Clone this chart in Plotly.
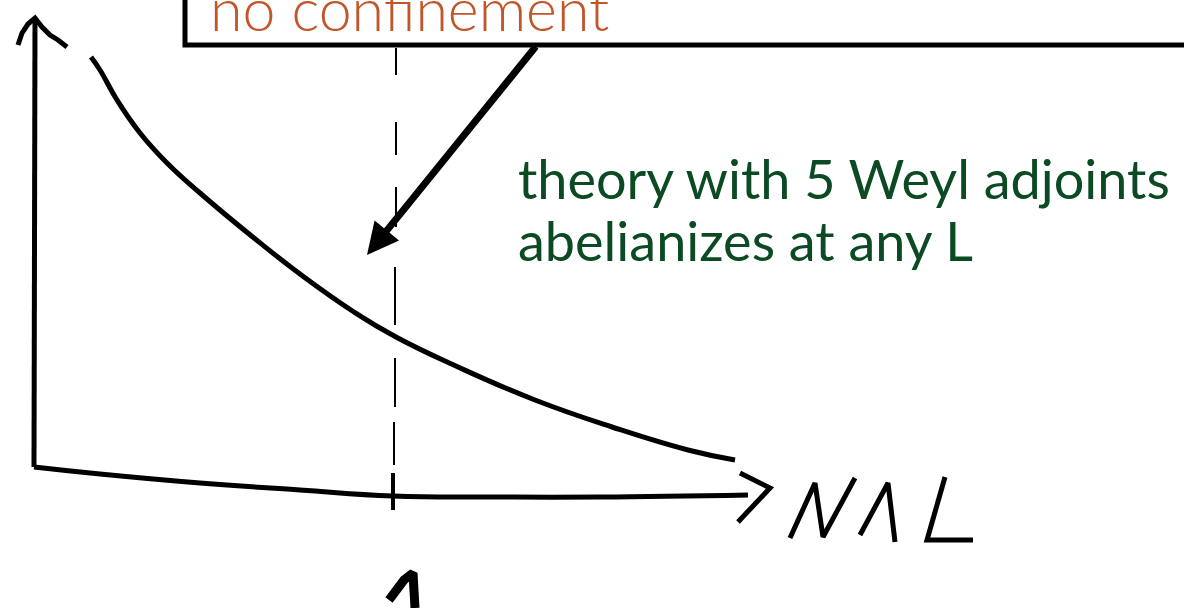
import plotly.graph_objects as go

# Sketch coordinates: x grows to the right, y grows downward (screen-like units).
# Decreasing curve of the sketch
curve_x = [91, 100, 117, 140, 167, 200, 254, 304, 354, 396, 458, 535, 612, 688, 735]
curve_y = [57, 70, 100, 133, 163, 193, 238, 277, 312, 337, 367, 400, 427, 450, 460]

# Hand-drawn axes
vaxis_x = [35, 35, 34, 34]
vaxis_y = [18, 150, 330, 467]
vhead_x = [18, 22, 28, 35, 42, 50, 58, 67]
vhead_y = [45, 33, 24, 18, 27, 35, 40, 47]
haxis_x = [34, 100, 200, 300, 393, 500, 600, 748]
haxis_y = [467, 474, 483, 490, 496, 497, 497, 495]
hhead_x = [740, 770, 738]
hhead_y = [473, 488, 522]

# Vertical dashed marker at N Lambda L = 1 (dash start/end)
dash_x = [396, 396, 396, 395, 395, 394, 393]
dash_y0 = [48, 122, 187, 267, 358, 422, 473]
dash_y1 = [75, 155, 227, 325, 407, 465, 510]
dash_w = [2, 2, 2, 2, 2, 2, 4]

# Handwritten axis label "N Λ L"
label_N = ([790, 815, 823, 855], [538, 483, 537, 478])
label_Lam = ([860, 888, 895], [535, 483, 542])
label_L = ([945, 927, 973], [477, 540, 540])

# Handwritten "1" under the dashed marker (cut at the bottom)
one_x = [389, 404, 413, 415]
one_y = [600, 580, 573, 608]

fig = go.Figure()


def stroke(xs, ys, width=5, color="black"):
    fig.add_trace(go.Scatter(x=xs, y=ys, mode="lines",
                             line=dict(color=color, width=width, shape="spline", smoothing=1.3),
                             hoverinfo="skip", showlegend=False))


def polyline(xs, ys, width=5, color="black"):
    fig.add_trace(go.Scatter(x=xs, y=ys, mode="lines",
                             line=dict(color=color, width=width),
                             hoverinfo="skip", showlegend=False))


stroke(curve_x, curve_y, 5)
polyline(vaxis_x, vaxis_y, 5)
polyline(vhead_x, vhead_y, 5)
stroke(haxis_x, haxis_y, 5)
polyline(hhead_x, hhead_y, 5)

for x, a, b, w in zip(dash_x, dash_y0, dash_y1, dash_w):
    polyline([x, x], [a, b], w)

polyline(*label_N, 5)
polyline(*label_Lam, 5)
polyline(*label_L, 5)
polyline(one_x, one_y, 9)

# Callout box (extends off the top and right edges)
fig.add_shape(type="rect", x0=185, x1=1250, y0=-60, y1=45,
              line=dict(color="black", width=5), fillcolor="rgba(0,0,0,0)")

fig.add_annotation(x=208, y=46, xref="x", yref="y", xanchor="left", yanchor="bottom",
                   text="no confinement", showarrow=False,
                   font=dict(family="Lato", size=59, color="#C2562B", weight=300))

# Arrow from the box down to the curve
fig.add_annotation(x=367, y=255, ax=537, ay=45, xref="x", yref="y", axref="x", ayref="y",
                   text="", showarrow=True, arrowhead=2, arrowsize=0.9, arrowwidth=7,
                   arrowcolor="black")

green_lines = ["theory with 5 Weyl adjoints", "abelianizes at any L"]
for text, ytop in zip(green_lines, [144, 206]):
    fig.add_annotation(x=516, y=ytop, xref="x", yref="y", xanchor="left", yanchor="top",
                       text=text, showarrow=False, align="left",
                       font=dict(family="Lato", size=54, color="#0B4A23"))

fig.update_layout(
    width=1184, height=608, margin=dict(l=0, r=0, t=0, b=0),
    paper_bgcolor="white", plot_bgcolor="white",
    xaxis=dict(range=[0, 1184], visible=False, fixedrange=True),
    yaxis=dict(range=[608, 0], visible=False, fixedrange=True),
)

fig.write_html("out.html")
